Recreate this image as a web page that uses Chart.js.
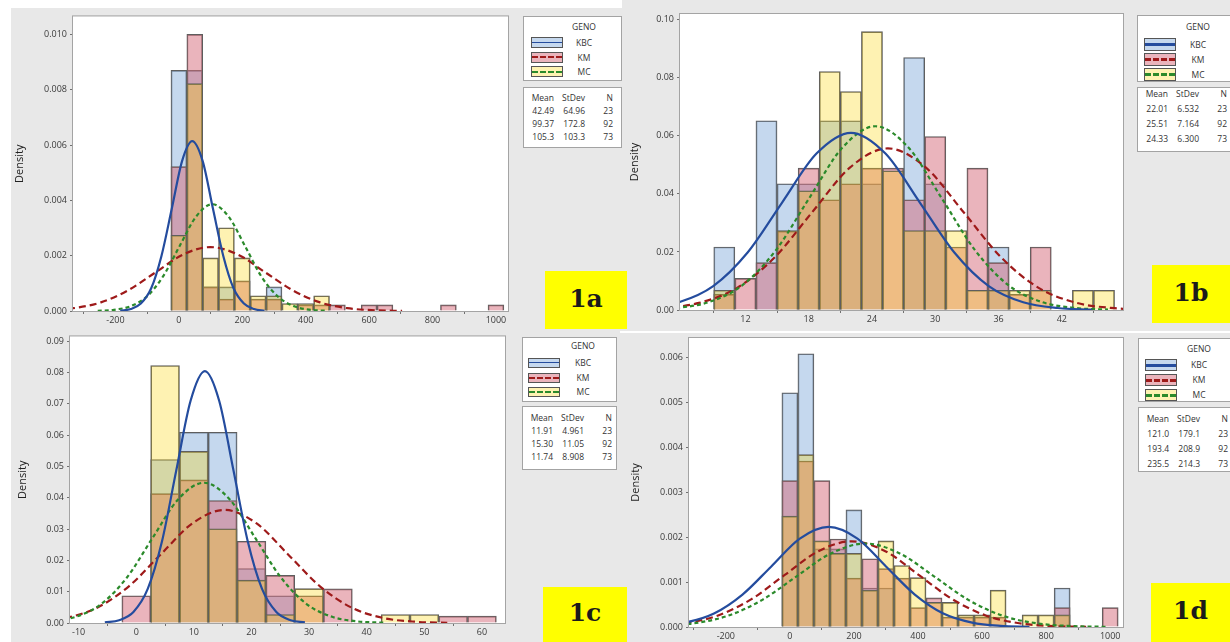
<!DOCTYPE html>
<html>
<head>
<meta charset="utf-8">
<title>Density histograms by GENO</title>
<script src="https://cdn.jsdelivr.net/npm/chart.js@4.4.1/dist/chart.umd.min.js"></script>
<style>
  html, body { margin: 0; padding: 0; }
  body { width: 1230px; height: 642px; position: relative; overflow: hidden; background: #e8e8e8; font-family: 'Open Sans', 'DejaVu Sans', sans-serif; }
  canvas { position: absolute; }
  .strip { position: absolute; background: #fff; }
  .box { position: absolute; background: #fff; border: 1px solid #a3a3a3; box-sizing: border-box; font-size: 8.5px; color: #333; overflow: hidden; }
  .geno { position: absolute; left: 40px; width: 40px; text-align: center; line-height: 12px; }
  .sw { position: absolute; width: 32px; border: 1px solid #555; box-sizing: border-box; }
  .sw0 { background: #c5d8ee; }
  .sw1 { background: #eab4bc; }
  .sw2 { background: #fef2b2; }
  .ln { position: absolute; left: 0; right: 0; top: 50%; margin-top: -1px; }
  .sw0 .ln { border-top: 1.5px solid #244c9e; }
  .sw1 .ln { border-top: 2px dashed #9e1a1a; }
  .sw2 .ln { border-top: 2px dashed #2b8a2b; }
  .thick .ln { border-top-width: 3px; margin-top: -1.5px; }
  .gl { position: absolute; left: 40px; width: 40px; text-align: center; }
  .cell { position: absolute; text-align: right; line-height: 12px; white-space: nowrap; }
  .tag { position: absolute; background: #ffff00; font-family: 'DejaVu Serif', serif; font-weight: bold; font-size: 25px; color: #1b1b1b; display: flex; align-items: center; justify-content: center; padding-bottom: 4px; box-sizing: border-box; }
</style>
</head>
<body>
<div class="strip" style="left:0;top:0;width:11px;height:642px"></div>
<div class="strip" style="left:0;top:0;width:622px;height:8px"></div>
<div class="strip" style="left:620px;top:331px;width:610px;height:2px"></div>
<script>
const groups = ['KBC', 'KM', 'MC'];

// ---- 1a ----
const binsA = [0, 50, 100, 150, 200, 250, 300, 350, 400, 450, 500, 550, 600, 650, 700, 750, 800, 850, 900, 950, 1000];
const kbcA = [0.0087, 0.0087, 0.00087, 0.00087, null, null, 0.00087, null, null, null, null, null, null, null, null, null, null, null, null, null, null];
const kmA = [0.00522, 0.0100, 0.00087, 0.00043, 0.00109, 0.00043, 0.00043, null, 0.00022, 0.00022, 0.00022, null, 0.00022, 0.00022, null, null, null, 0.00022, null, null, 0.00022];
const mcA = [0.00274, 0.00822, 0.00192, 0.00301, 0.00192, 0.00055, 0.00055, 0.00027, 0.00027, 0.00055, null, null, null, null, null, null, null, null, null, null, null];
const kbcCurveXA = [-185, -152, -120, -87, -55, -22, 10, 42, 75, 107, 140, 172, 205, 237, 270];
const kbcCurveYA = [0.00001, 0.00007, 0.00027, 0.00083, 0.00199, 0.00372, 0.00542, 0.00614, 0.00542, 0.00372, 0.00199, 0.00083, 0.00027, 0.00007, 0.00001];
const kmCurveXA = [-505, -419, -333, -246, -160, -73, 13, 99, 186, 272, 359, 445, 531, 618, 704];
const kmCurveYA = [0.000005, 0.000026, 0.000101, 0.000312, 0.00075, 0.0014, 0.00204, 0.00231, 0.00204, 0.0014, 0.00075, 0.000312, 0.000101, 0.000026, 0.000005];
const mcCurveXA = [-256, -205, -153, -101, -50, 2, 54, 105, 157, 209, 260, 312, 364, 415, 467];
const mcCurveYA = [0.0000085, 0.000043, 0.00017, 0.000523, 0.00125, 0.00234, 0.00341, 0.00386, 0.00341, 0.00234, 0.00125, 0.000523, 0.00017, 0.000043, 0.0000085];
const xTicksA = [-200, 0, 200, 400, 600, 800, 1000];
const xLabelsA = ['-200', '0', '200', '400', '600', '800', '1000'];
const yTicksA = [0, 0.002, 0.004, 0.006, 0.008, 0.010];
const yLabelsA = ['0.000', '0.002', '0.004', '0.006', '0.008', '0.010'];
const meanA = ['42.49', '99.37', '105.3'];
const sdA = ['64.96', '172.8', '103.3'];
const nA = ['23', '92', '73'];

// ---- 1b ----
const binsB = [10, 12, 14, 16, 18, 20, 22, 24, 26, 28, 30, 32, 34, 36, 38, 40, 42, 44, 46];
const kbcB = [0.0217, null, 0.0652, 0.0435, 0.0435, 0.0652, 0.0652, 0.0435, null, 0.087, 0.0435, null, null, 0.0217, null, null, null, null, null];
const kmB = [0.0054, 0.0109, 0.0163, 0.0272, 0.0489, 0.038, 0.0435, 0.0489, 0.0489, 0.038, 0.0598, 0.0217, 0.0489, 0.0163, 0.0054, 0.0217, null, null, null];
const mcB = [0.0068, null, null, 0.0274, 0.0411, 0.0822, 0.0753, 0.0959, 0.048, 0.0274, 0.0274, 0.0274, 0.0068, 0.0068, 0.0068, 0.0068, null, 0.0068, 0.0068];
const kbcCurveXB = [-0.85, 2.41, 5.68, 8.95, 12.21, 15.48, 18.74, 22.01, 25.28, 28.54, 31.81, 35.07, 38.34, 41.61, 44.87];
const kbcCurveYB = [0.00013, 0.00068, 0.00268, 0.00826, 0.01983, 0.03704, 0.0539, 0.06107, 0.0539, 0.03704, 0.01983, 0.00826, 0.00268, 0.00068, 0.00013];
const kmCurveXB = [0.44, 4.02, 7.6, 11.18, 14.76, 18.35, 21.93, 25.51, 29.09, 32.67, 36.26, 39.84, 43.42, 47.0, 50.58];
const kmCurveYB = [0.00012, 0.00062, 0.00244, 0.00754, 0.01808, 0.03378, 0.04915, 0.05569, 0.04915, 0.03378, 0.01808, 0.00754, 0.00244, 0.00062, 0.00012];
const mcCurveXB = [2.28, 5.43, 8.58, 11.73, 14.88, 18.03, 21.18, 24.33, 27.48, 30.63, 33.78, 36.93, 40.08, 43.23, 46.38];
const mcCurveYB = [0.00014, 0.0007, 0.00278, 0.00857, 0.02056, 0.0384, 0.05588, 0.06332, 0.05588, 0.0384, 0.02056, 0.00857, 0.00278, 0.0007, 0.00014];
const xTicksB = [12, 18, 24, 30, 36, 42];
const xLabelsB = ['12', '18', '24', '30', '36', '42'];
const yTicksB = [0, 0.02, 0.04, 0.06, 0.08, 0.10];
const yLabelsB = ['0.00', '0.02', '0.04', '0.06', '0.08', '0.10'];
const meanB = ['22.01', '25.51', '24.33'];
const sdB = ['6.532', '7.164', '6.300'];
const nB = ['23', '92', '73'];

// ---- 1c ----
const binsC = [0, 5, 10, 15, 20, 25, 30, 35, 40, 45, 50, 55, 60];
const kbcC = [null, 0.0522, 0.0609, 0.0609, 0.0174, 0.0087, null, null, null, null, null, null, null];
const kmC = [0.0087, 0.0413, 0.0457, 0.0391, 0.0261, 0.0152, 0.0087, 0.0109, null, null, null, 0.0022, 0.0022];
const mcC = [null, 0.0822, 0.0548, 0.0301, 0.0137, 0.0027, 0.011, null, null, 0.0027, 0.0027, null, null];
const kbcCurveXC = [-5.45, -2.97, -0.49, 1.99, 4.47, 6.95, 9.43, 11.91, 14.39, 16.87, 19.35, 21.83, 24.31, 26.79, 29.27];
const kbcCurveYC = [0.00018, 0.00089, 0.00353, 0.01088, 0.02611, 0.04877, 0.07097, 0.08042, 0.07097, 0.04877, 0.02611, 0.01088, 0.00353, 0.00089, 0.00018];
const kmCurveXC = [-23.38, -17.85, -12.33, -6.8, -1.28, 4.25, 9.78, 15.3, 20.83, 26.35, 31.88, 37.4, 42.93, 48.45, 53.98];
const kmCurveYC = [0.00008, 0.0004, 0.00158, 0.00488, 0.01172, 0.0219, 0.03186, 0.0361, 0.03186, 0.0219, 0.01172, 0.00488, 0.00158, 0.0004, 0.00008];
const mcCurveXC = [-19.44, -14.98, -10.53, -6.08, -1.62, 2.83, 7.29, 11.74, 16.19, 20.65, 25.1, 29.56, 34.01, 38.46, 42.92];
const mcCurveYC = [0.0001, 0.0005, 0.00197, 0.00606, 0.01454, 0.02716, 0.03952, 0.04478, 0.03952, 0.02716, 0.01454, 0.00606, 0.00197, 0.0005, 0.0001];
const xTicksC = [-10, 0, 10, 20, 30, 40, 50, 60];
const xLabelsC = ['-10', '0', '10', '20', '30', '40', '50', '60'];
const yTicksC = [0, 0.01, 0.02, 0.03, 0.04, 0.05, 0.06, 0.07, 0.08, 0.09];
const yLabelsC = ['0.00', '0.01', '0.02', '0.03', '0.04', '0.05', '0.06', '0.07', '0.08', '0.09'];
const meanC = ['11.91', '15.30', '11.74'];
const sdC = ['4.961', '11.05', '8.908'];
const nC = ['23', '92', '73'];

// ---- 1d ----
const binsD = [0, 50, 100, 150, 200, 250, 300, 350, 400, 450, 500, 550, 600, 650, 700, 750, 800, 850, 900, 950, 1000];
const kbcD = [0.00522, 0.00609, 0.00174, 0.00174, 0.00261, 0.00087, 0.00087, null, null, null, null, null, null, null, null, null, null, 0.00087, null, null, null];
const kmD = [0.00326, 0.0037, 0.00326, 0.00196, 0.00109, 0.00152, 0.0013, 0.00109, 0.00043, 0.00065, 0.00022, 0.00022, 0.00022, 0.00022, null, null, null, 0.00043, null, null, 0.00043];
const mcD = [0.00247, 0.00384, 0.00192, 0.00164, 0.00164, 0.00082, 0.00192, 0.00137, 0.0011, 0.00055, 0.00055, 0.00027, 0.00027, 0.00082, null, 0.00027, 0.00027, 0.00027, null, null, null];
const kbcCurveXD = [-506, -416, -327, -237, -148, -58, 31, 121, 211, 300, 390, 479, 569, 658, 748];
const kbcCurveYD = [0.0000049, 0.0000247, 0.0000978, 0.000301, 0.000723, 0.00135, 0.00197, 0.00223, 0.00197, 0.00135, 0.000723, 0.000301, 0.0000978, 0.0000247, 0.0000049];
const kmCurveXD = [-538, -433, -329, -224, -120, -16, 89, 193, 298, 402, 507, 611, 716, 820, 925];
const kmCurveYD = [0.0000042, 0.0000212, 0.0000838, 0.000258, 0.00062, 0.00116, 0.00169, 0.00191, 0.00169, 0.00116, 0.00062, 0.000258, 0.0000838, 0.0000212, 0.0000042];
const mcCurveXD = [-515, -407, -300, -193, -86, 21, 128, 236, 343, 450, 557, 664, 771, 878, 986];
const mcCurveYD = [0.0000041, 0.0000207, 0.0000817, 0.000252, 0.000605, 0.00113, 0.00164, 0.00186, 0.00164, 0.00113, 0.000605, 0.000252, 0.0000817, 0.0000207, 0.0000041];
const xTicksD = [-200, 0, 200, 400, 600, 800, 1000];
const xLabelsD = ['-200', '0', '200', '400', '600', '800', '1000'];
const yTicksD = [0, 0.001, 0.002, 0.003, 0.004, 0.005, 0.006];
const yLabelsD = ['0.000', '0.001', '0.002', '0.003', '0.004', '0.005', '0.006'];
const meanD = ['121.0', '193.4', '235.5'];
const sdD = ['179.1', '208.9', '214.3'];
const nD = ['23', '92', '73'];

// translucent fills, stacked blue -> pink -> yellow (yellow on top)
const barColors = ['rgba(139,177,221,0.5)', 'rgba(213,105,121,0.5)', 'rgba(252,212,0,0.3)'];
const barOrder = [7, 6, 5];
const lineColors = ['#244c9e', '#9e1a1a', '#2b8a2b'];
const lineDash = [[], [7, 4], [4, 3]];
const lineOrder = [0, 2, 1];

// white plot area + grey frame
const framePlugin = {
    id: 'frame',
    beforeDraw(chart) {
        const {ctx, chartArea: a} = chart;
        ctx.save();
        ctx.fillStyle = '#ffffff';
        ctx.fillRect(a.left, a.top, a.right - a.left, a.bottom - a.top);
        ctx.restore();
    },
    afterDraw(chart) {
        const {ctx, chartArea: a} = chart;
        ctx.save();
        ctx.strokeStyle = '#a4a4a4';
        ctx.lineWidth = 1;
        ctx.strokeRect(a.left - 0.5, a.top - 0.5, a.right - a.left + 1, a.bottom - a.top + 1);
        ctx.restore();
    }
};

function drawPanel(p) {
    const cv = document.createElement('canvas');
    cv.width = p.w;
    cv.height = p.h;
    cv.style.left = p.left + 'px';
    cv.style.top = p.top + 'px';
    document.body.appendChild(cv);

    const datasets = [];
    p.bars.forEach((vals, g) => {
        datasets.push({
            type: 'bar',
            label: groups[g],
            data: p.bins.map((b, i) => ({x: b, y: vals[i]})),
            backgroundColor: barColors[g],
            borderColor: '#5e5e5e',
            borderWidth: 1,
            grouped: false,
            barPercentage: 1,
            categoryPercentage: 1,
            order: barOrder[g]
        });
    });
    p.curves.forEach((c, g) => {
        datasets.push({
            type: 'line',
            label: groups[g] + ' normal fit',
            data: c[0].map((x, i) => ({x: x, y: c[1][i]})),
            borderColor: lineColors[g],
            borderWidth: 2.2,
            borderDash: lineDash[g],
            pointRadius: 0,
            fill: false,
            cubicInterpolationMode: 'monotone',
            order: lineOrder[g]
        });
    });

    const tickFont = {family: "'Open Sans', sans-serif", size: 9};
    new Chart(cv.getContext('2d'), {
        type: 'bar',
        data: {datasets: datasets},
        options: {
            responsive: false,
            animation: false,
            layout: {padding: {left: 0, right: p.padR, top: p.padT, bottom: 0}},
            plugins: {legend: {display: false}, tooltip: {enabled: false}},
            scales: {
                x: {
                    type: 'linear',
                    offset: false,
                    min: p.xMin,
                    max: p.xMax,
                    afterBuildTicks: ax => { ax.ticks = p.xTicks.map(v => ({value: v})); },
                    afterFit: ax => { ax.height = p.xH; },
                    ticks: {callback: (v, i) => p.xLabels[i], font: tickFont, color: '#3a3a3a', padding: 1, maxRotation: 0, autoSkip: false},
                    grid: {drawOnChartArea: false, tickLength: 3, color: '#707070'},
                    border: {display: false}
                },
                y: {
                    min: 0,
                    max: p.yMax,
                    afterBuildTicks: ax => { ax.ticks = p.yTicks.map(v => ({value: v})); },
                    afterFit: ax => { ax.width = p.yW; },
                    ticks: {callback: (v, i) => p.yLabels[i], font: tickFont, color: '#3a3a3a', padding: 3, autoSkip: false},
                    grid: {drawOnChartArea: false, tickLength: 3, color: '#707070'},
                    border: {display: false},
                    title: {display: true, text: 'Density', color: '#222', font: {family: "'Open Sans', sans-serif", size: 11}, padding: {top: p.titlePad, bottom: 0}}
                }
            }
        },
        plugins: [framePlugin]
    });
}

function addLegend(L, means, sds, ns, thick) {
    const g = document.createElement('div');
    g.className = 'box';
    g.style.cssText = `left:${L.x}px;top:${L.gy}px;width:${L.w}px;height:${L.gh}px`;
    let html = `<div class="geno" style="top:${L.gt}px">GENO</div>`;
    groups.forEach((name, i) => {
        const t = L.r0 + i * L.rg;
        html += `<div class="sw sw${i}${thick ? ' thick' : ''}" style="left:${L.sx}px;top:${t}px;height:${L.swh}px"><div class="ln"></div></div>`;
        html += `<div class="gl" style="top:${t}px;line-height:${L.swh}px">${name}</div>`;
    });
    g.innerHTML = html;
    document.body.appendChild(g);

    const s = document.createElement('div');
    s.className = 'box';
    s.style.cssText = `left:${L.x}px;top:${L.sy}px;width:${L.w}px;height:${L.sh}px`;
    const rows = [['Mean', 'StDev', 'N']].concat(means.map((m, i) => [m, sds[i], ns[i]]));
    const colLeft = [0, 31, 62];
    const colWidth = [30, 30, 27];
    let sh = '';
    rows.forEach((r, j) => {
        const t = L.s0 + j * L.sg;
        r.forEach((txt, c) => {
            sh += `<div class="cell" style="top:${t}px;left:${colLeft[c]}px;width:${colWidth[c]}px">${txt}</div>`;
        });
    });
    s.innerHTML = sh;
    document.body.appendChild(s);
}

function addTag(text, x, y, w, h) {
    const d = document.createElement('div');
    d.className = 'tag';
    d.style.cssText = `left:${x}px;top:${y}px;width:${w}px;height:${h}px`;
    d.textContent = text;
    document.body.appendChild(d);
}

drawPanel({left: 11, top: 8, w: 504, h: 320, padT: 7, padR: 7, yW: 62, xH: 17, titlePad: 2,
    xMin: -334, xMax: 1038, yMax: 0.01065, bins: binsA, bars: [kbcA, kmA, mcA],
    curves: [[kbcCurveXA, kbcCurveYA], [kmCurveXA, kmCurveYA], [mcCurveXA, mcCurveYA]],
    xTicks: xTicksA, xLabels: xLabelsA, yTicks: yTicksA, yLabels: yLabelsA});

drawPanel({left: 625, top: 5, w: 505, h: 322, padT: 9, padR: 7, yW: 55, xH: 17, titlePad: 3,
    xMin: 5.8, xMax: 47.8, yMax: 0.102, bins: binsB, bars: [kbcB, kmB, mcB],
    curves: [[kbcCurveXB, kbcCurveYB], [kmCurveXB, kmCurveYB], [mcCurveXB, mcCurveYB]],
    xTicks: xTicksB, xLabels: xLabelsB, yTicks: yTicksB, yLabels: yLabelsB});

drawPanel({left: 11, top: 328, w: 504, h: 314, padT: 8, padR: 10, yW: 59, xH: 19, titlePad: 5,
    xMin: -11.5, xMax: 64, yMax: 0.0915, bins: binsC, bars: [kbcC, kmC, mcC],
    curves: [[kbcCurveXC, kbcCurveYC], [kmCurveXC, kmCurveYC], [mcCurveXC, mcCurveYC]],
    xTicks: xTicksC, xLabels: xLabelsC, yTicks: yTicksC, yLabels: yLabelsC});

drawPanel({left: 625, top: 328, w: 505, h: 314, padT: 10, padR: 7, yW: 64, xH: 15, titlePad: 4,
    xMin: -315, xMax: 1040, yMax: 0.00644, bins: binsD, bars: [kbcD, kmD, mcD],
    curves: [[kbcCurveXD, kbcCurveYD], [kmCurveXD, kmCurveYD], [mcCurveXD, mcCurveYD]],
    xTicks: xTicksD, xLabels: xLabelsD, yTicks: yTicksD, yLabels: yLabelsD});

addLegend({x: 523, w: 99, gy: 16, gh: 65, gt: 4, sx: 7, r0: 20, rg: 14.5, swh: 11, sy: 87, sh: 61, s0: 4, sg: 13}, meanA, sdA, nA, false);
addLegend({x: 1137, w: 100, gy: 15, gh: 67, gt: 5, sx: 6, r0: 22, rg: 15, swh: 13, sy: 87, sh: 65, s0: 0, sg: 15}, meanB, sdB, nB, true);
addLegend({x: 522, w: 95, gy: 337, gh: 65, gt: 2, sx: 5, r0: 20, rg: 14.5, swh: 10, sy: 406, sh: 64, s0: 5, sg: 13}, meanC, sdC, nC, false);
addLegend({x: 1138, w: 100, gy: 338, gh: 64, gt: 4, sx: 6, r0: 20, rg: 15, swh: 12, sy: 407, sh: 65, s0: 5, sg: 15}, meanD, sdD, nD, true);

addTag('1a', 545, 271, 82, 58);
addTag('1b', 1152, 265, 78, 58);
addTag('1c', 543, 587, 84, 55);
addTag('1d', 1151, 583, 79, 59);
</script>
</body>
</html>
